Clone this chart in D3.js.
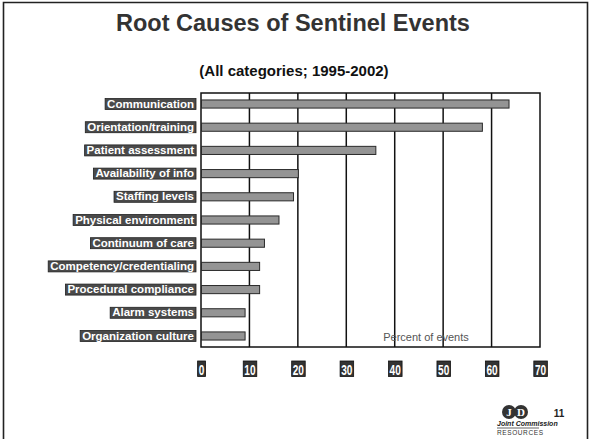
<!DOCTYPE html>
<html><head><meta charset="utf-8">
<script src="https://cdn.jsdelivr.net/npm/d3@7"></script>
<style>body{margin:0;background:#fff}svg{display:block}</style>
</head><body>
<script>
const categories = ["Communication","Orientation/training","Patient assessment","Availability of info","Staffing levels","Physical environment","Continuum of care","Competency/credentialing","Procedural compliance","Alarm systems","Organization culture"];
const values = [63.5, 58, 36, 20, 19, 16, 13, 12, 12, 9, 9];
const tickValues = [0,10,20,30,40,50,60,70];

const W = 591, H = 439;
const svg = d3.select("body").append("svg").attr("width", W).attr("height", H);

// slide frame
svg.append("path").attr("d","M3.5,439 L3.5,2.5 L587.5,2.5 L587.5,439")
  .attr("fill","none").attr("stroke","#222").attr("stroke-width",1.6);

svg.append("text").attr("x",293).attr("y",31).attr("text-anchor","middle")
  .attr("font-family","Liberation Sans, Arial, sans-serif").attr("font-weight","bold")
  .attr("font-size",23.5).attr("fill","#333").text("Root Causes of Sentinel Events");
svg.append("text").attr("x",294).attr("y",76).attr("text-anchor","middle")
  .attr("font-family","Liberation Sans, Arial, sans-serif").attr("font-weight","bold")
  .attr("font-size",15).attr("fill","#111").text("(All categories; 1995-2002)");

const x = d3.scaleLinear().domain([0,70]).range([201,540]);
const y = d3.scaleBand().domain(categories).range([93,347]).paddingInner(0.65).paddingOuter(0.3);

// plot frame and gridlines
svg.append("rect").attr("x",x(0)).attr("y",93).attr("width",x(70)-x(0)).attr("height",254)
  .attr("fill","none").attr("stroke","#111").attr("stroke-width",1.5);
svg.append("g").selectAll("line").data(tickValues.slice(1,-1)).join("line")
  .attr("x1",d=>x(d)).attr("x2",d=>x(d)).attr("y1",93).attr("y2",347)
  .attr("stroke","#111").attr("stroke-width",1.5);

// bars
svg.append("g").selectAll("rect").data(values).join("rect")
  .attr("x",x(0)+0.5).attr("y",(d,i)=>y(categories[i]))
  .attr("width",d=>x(d)-x(0)).attr("height",y.bandwidth())
  .attr("fill","#949494").attr("stroke","#2a2a2a").attr("stroke-width",1);

// axis title
svg.append("text").attr("x",426).attr("y",341).attr("text-anchor","middle")
  .attr("font-family","Liberation Sans, Arial, sans-serif").attr("font-size",11)
  .attr("fill","#555").text("Percent of events");

// category axis (labels as white text in dark boxes)
const yAxis = svg.append("g").attr("transform","translate(197,0)")
  .call(d3.axisLeft(y).tickSize(0).tickPadding(3));
yAxis.select(".domain").remove();
yAxis.selectAll(".tick text")
  .attr("font-family","Liberation Sans, Arial, sans-serif")
  .attr("font-weight","bold").attr("font-size",11.5).attr("fill","#fff");
yAxis.selectAll(".tick").each(function(){
  const t = d3.select(this).select("text");
  const b = t.node().getBBox();
  d3.select(this).insert("rect","text").attr("x",b.x-2).attr("y",-5.5)
    .attr("width",b.width+4).attr("height",11).attr("fill","#4a4a4a").attr("stroke","#222").attr("stroke-width",0.8);
});

// value axis (ticks as white condensed text in dark boxes)
const xAxis = svg.append("g").attr("transform","translate(0,361)")
  .call(d3.axisBottom(x).tickValues(tickValues).tickSize(0).tickPadding(0));
xAxis.select(".domain").remove();
xAxis.selectAll(".tick text")
  .attr("font-family","Liberation Sans, Arial, sans-serif")
  .attr("font-weight","bold").attr("font-size",14).attr("fill","#fff").attr("dy","1em")
  .attr("transform","scale(0.72,1)");
xAxis.selectAll(".tick").each(function(){
  const t = d3.select(this).select("text");
  const b = t.node().getBBox();
  d3.select(this).insert("rect","text").attr("x",(b.x-1.5)*0.72).attr("y",0)
    .attr("width",(b.width+3)*0.72).attr("height",15.5).attr("fill","#333").attr("stroke","#111").attr("stroke-width",0.8);
});

// logo
const logo = svg.append("g");
logo.append("circle").attr("cx",509).attr("cy",412).attr("r",7).attr("fill","#333");
logo.append("circle").attr("cx",521).attr("cy",412).attr("r",7).attr("fill","#333");
logo.append("text").attr("x",509).attr("y",416).attr("text-anchor","middle").attr("font-family","Liberation Serif, serif").attr("font-weight","bold").attr("font-size",11).attr("fill","#fff").text("J");
logo.append("text").attr("x",521).attr("y",416).attr("text-anchor","middle").attr("font-family","Liberation Serif, serif").attr("font-weight","bold").attr("font-size",11).attr("fill","#fff").text("D");
logo.append("text").attr("x",497).attr("y",426).attr("font-family","Liberation Sans, Arial, sans-serif").attr("font-style","italic").attr("font-weight","bold").attr("font-size",7).attr("fill","#222").text("Joint Commission");
logo.append("line").attr("x1",497).attr("x2",539).attr("y1",428).attr("y2",428).attr("stroke","#222").attr("stroke-width",0.7);
logo.append("text").attr("x",497).attr("y",435).attr("font-family","Liberation Sans, Arial, sans-serif").attr("font-size",6.5).attr("letter-spacing",0.6).attr("fill","#333").text("RESOURCES");
svg.append("text").attr("x",559).attr("y",417).attr("text-anchor","middle").attr("font-family","Liberation Sans, Arial, sans-serif").attr("font-weight","bold").attr("font-size",10).attr("fill","#222").text("11");
</script>
</body></html>
